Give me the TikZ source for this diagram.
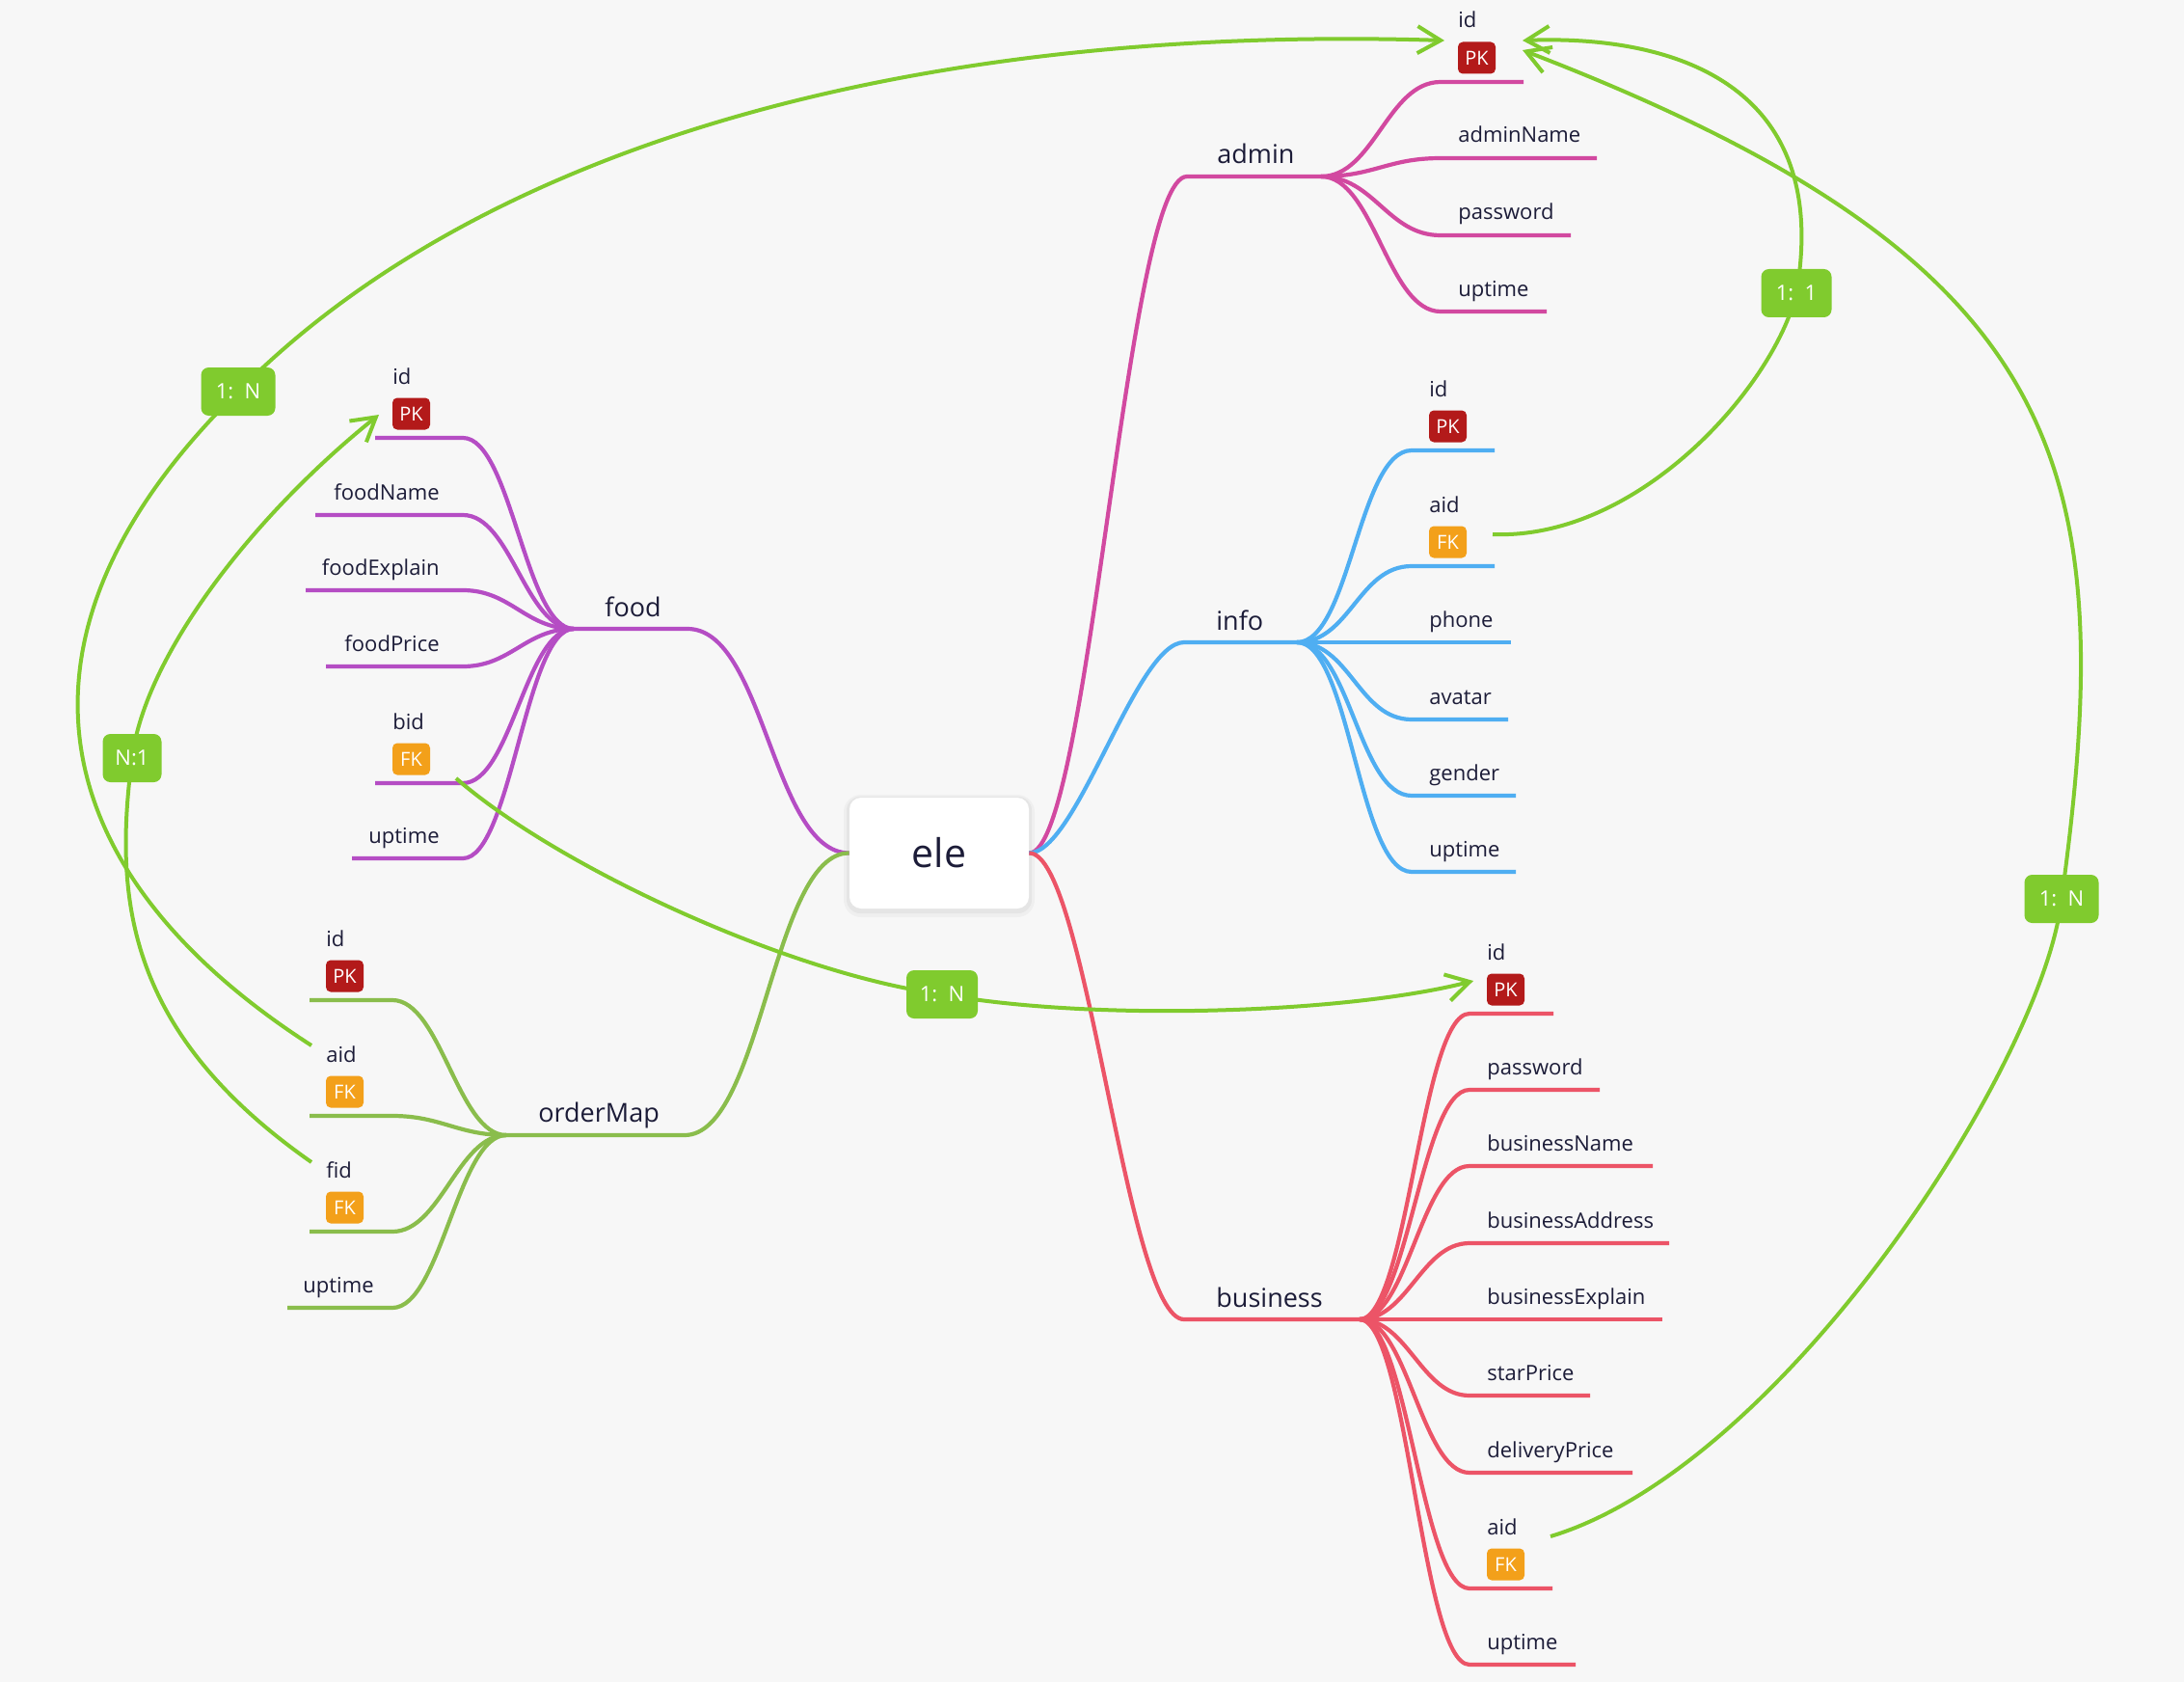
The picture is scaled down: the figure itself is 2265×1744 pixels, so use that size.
\documentclass[tikz,border=0pt]{standalone}
\usepackage{fontspec}
\setmainfont{Open Sans}
\usetikzlibrary{arrows.meta}

\definecolor{canvas}{RGB}{247,247,247}
\definecolor{ink}{RGB}{28,28,56}
\definecolor{cadmin}{RGB}{210,73,160}
\definecolor{cinfo}{RGB}{79,174,242}
\definecolor{cbus}{RGB}{236,84,103}
\definecolor{cfood}{RGB}{181,77,196}
\definecolor{corder}{RGB}{138,189,76}
\definecolor{crel}{RGB}{128,203,46}
\definecolor{cpk}{RGB}{179,26,26}
\definecolor{cfk}{RGB}{243,160,26}

\tikzset{
  fieldtxt/.style={font=\fontsize{11}{13}\selectfont, text=ink, inner sep=0pt, anchor=base west},
  fieldtxtR/.style={fieldtxt, anchor=base east},
  branchtxt/.style={font=\fontsize{13.5}{16}\selectfont, text=ink, inner sep=0pt, anchor=base west},
  keybadge/.style={rounded corners=2.5pt, minimum width=19.5pt, minimum height=16.5pt,
    inner sep=0pt, text=white, font=\fontsize{10}{11}\selectfont},
  branch/.style={line width=2.1pt, draw=#1},
  rel/.style={line width=2pt, draw=crel, -{Straight Barb[length=12pt,width=14pt]}},
  rellabel/.style={fill=crel, rounded corners=4pt, minimum height=25pt, minimum width=38.5pt,
    inner xsep=4pt, text=white, font=\fontsize{11}{12}\selectfont},
}

\begin{document}
\begin{tikzpicture}[x=0.5pt,y=-0.5pt]
\useasboundingbox (0,0) rectangle (2265,1744);
\fill[canvas] (0,0) rectangle (2265,1744);

% ---------- central topic ----------
\fill[black,opacity=0.03,rounded corners=9pt] (875,824) rectangle (1073,951);
\fill[black,opacity=0.04,rounded corners=7pt] (878,826) rectangle (1070,947);
\node[fill=white, rounded corners=6pt, minimum width=93pt, minimum height=57.5pt,
      inner sep=0pt, text=ink, font=\fontsize{20.5}{24}\selectfont] (ele) at (974,884.5) {ele};

% ---------- main branches ----------
\coordinate (adm-bend) at (1231,183);  \coordinate (adm-hub) at (1370,183);
\coordinate (inf-bend) at (1228,666);  \coordinate (inf-hub) at (1345,666);
\coordinate (bus-bend) at (1228,1368); \coordinate (bus-hub) at (1410,1368);
\coordinate (food-bend) at (713,652);  \coordinate (food-hub) at (595,652);
\coordinate (om-bend) at (710,1177);   \coordinate (om-hub) at (525,1177);

\draw[branch=cadmin] (ele.east) .. controls (1130,884) and (1168,183) .. (adm-bend) -- (adm-hub);
\draw[branch=cinfo]  (ele.east) .. controls (1117,884) and (1178,666) .. (inf-bend) -- (inf-hub);
\draw[branch=cbus]   (ele.east) .. controls (1127,884) and (1168,1368) .. (bus-bend) -- (bus-hub);
\draw[branch=cfood]  (ele.west) .. controls (801,884) and (793,652) .. (food-bend) -- (food-hub);
\draw[branch=corder] (ele.west) .. controls (801,884) and (790,1177) .. (om-bend) -- (om-hub);

\node[branchtxt] (admin) at (1262,170) {admin};
\node[branchtxt] (info) at (1261,653) {info};
\node[branchtxt] (business) at (1261,1355) {business};
\node[branchtxt] (food) at (627,639) {food};
\node[branchtxt] (ordermap) at (558,1163) {orderMap};

% ---------- admin fields ----------
\foreach \nm/\y/\e/\t in {adm-name/164/1656/adminName, adm-pw/244/1629/password, adm-up/323/1604/uptime}{
  \coordinate (\nm-s) at (1494,\y); \coordinate (\nm-e) at (\e,\y);
  \node[fieldtxt] (\nm) at (1512,\y-16) {\t};
  \draw[branch=cadmin] (adm-hub) .. controls +(55,0) and +(-55,0) .. (\nm-s) -- (\nm-e);
}
\foreach \nm/\y/\e/\t/\kt/\kc in {adm-id/85/1580/id/PK/cpk}{
  \coordinate (\nm-s) at (1494,\y); \coordinate (\nm-e) at (\e,\y);
  \node[fieldtxt] (\nm) at (1512,\y-56) {\t};
  \node[keybadge, fill=\kc] (\nm-k) at (1531.5,\y-25) {\kt};
  \draw[branch=cadmin] (adm-hub) .. controls +(55,0) and +(-55,0) .. (\nm-s) -- (\nm-e);
}

% ---------- info fields ----------
\foreach \nm/\y/\e/\t in {inf-phone/666/1567/phone, inf-av/746/1564/avatar, inf-gen/825/1572/gender, inf-up/904/1572/uptime}{
  \coordinate (\nm-s) at (1464,\y); \coordinate (\nm-e) at (\e,\y);
  \node[fieldtxt] (\nm) at (1482,\y-16) {\t};
  \draw[branch=cinfo] (inf-hub) .. controls +(55,0) and +(-55,0) .. (\nm-s) -- (\nm-e);
}
\foreach \nm/\y/\e/\t/\kt/\kc in {inf-id/467/1550/id/PK/cpk, inf-aid/587/1550/aid/FK/cfk}{
  \coordinate (\nm-s) at (1464,\y); \coordinate (\nm-e) at (\e,\y);
  \node[fieldtxt] (\nm) at (1482,\y-56) {\t};
  \node[keybadge, fill=\kc] (\nm-k) at (1501.5,\y-25) {\kt};
  \draw[branch=cinfo] (inf-hub) .. controls +(55,0) and +(-55,0) .. (\nm-s) -- (\nm-e);
}

% ---------- business fields ----------
\foreach \nm/\y/\e/\t in {bus-pw/1130/1659/password, bus-name/1209/1714/businessName,
    bus-addr/1289/1731/businessAddress, bus-exp/1368/1724/businessExplain,
    bus-star/1447/1649/starPrice, bus-del/1527/1693/deliveryPrice, bus-up/1726/1634/uptime}{
  \coordinate (\nm-s) at (1524,\y); \coordinate (\nm-e) at (\e,\y);
  \node[fieldtxt] (\nm) at (1542,\y-16) {\t};
  \draw[branch=cbus] (bus-hub) .. controls +(50,0) and +(-50,0) .. (\nm-s) -- (\nm-e);
}
\foreach \nm/\y/\e/\t/\kt/\kc in {bus-id/1051/1611/id/PK/cpk, bus-aid/1647/1610/aid/FK/cfk}{
  \coordinate (\nm-s) at (1524,\y); \coordinate (\nm-e) at (\e,\y);
  \node[fieldtxt] (\nm) at (1542,\y-56) {\t};
  \node[keybadge, fill=\kc] (\nm-k) at (1561.5,\y-25) {\kt};
  \draw[branch=cbus] (bus-hub) .. controls +(50,0) and +(-50,0) .. (\nm-s) -- (\nm-e);
}

% ---------- food fields ----------
\foreach \nm/\y/\s/\t in {food-name/534/327/foodName, food-exp/612/317/foodExplain,
    food-price/691/338/foodPrice, food-up/890/365/uptime}{
  \coordinate (\nm-s) at (\s,\y); \coordinate (\nm-e) at (480,\y);
  \node[fieldtxtR] (\nm) at (456,\y-16) {\t};
  \draw[branch=cfood] (\nm-s) -- (\nm-e) .. controls +(50,0) and +(-50,0) .. (food-hub);
}
\foreach \nm/\y/\t/\kt/\kc in {food-id/454/id/PK/cpk, food-bid/812/bid/FK/cfk}{
  \coordinate (\nm-s) at (389,\y); \coordinate (\nm-e) at (480,\y);
  \node[fieldtxt] (\nm) at (407,\y-56) {\t};
  \node[keybadge, fill=\kc] (\nm-k) at (426.5,\y-25) {\kt};
  \draw[branch=cfood] (\nm-s) -- (\nm-e) .. controls +(50,0) and +(-50,0) .. (food-hub);
}

% ---------- orderMap fields ----------
\foreach \nm/\y/\t/\kt/\kc in {om-id/1037/id/PK/cpk, om-aid/1157/aid/FK/cfk, om-fid/1277/fid/FK/cfk}{
  \coordinate (\nm-s) at (321,\y); \coordinate (\nm-e) at (407,\y);
  \node[fieldtxt] (\nm) at (338,\y-56) {\t};
  \node[keybadge, fill=\kc] (\nm-k) at (357.5,\y-25) {\kt};
  \draw[branch=corder] (\nm-s) -- (\nm-e) .. controls +(50,0) and +(-50,0) .. (om-hub);
}
\coordinate (om-up-s) at (298,1356); \coordinate (om-up-e) at (407,1356);
\node[fieldtxtR] (om-up) at (388,1340) {uptime};
\draw[branch=corder] (om-up-s) -- (om-up-e) .. controls +(50,0) and +(-50,0) .. (om-hub);

% ---------- relationships ----------
\coordinate (om-aid-r) at (323,1084);
\coordinate (om-fid-r) at (323,1205);
\coordinate (inf-aid-r) at (1548,554);
\coordinate (bus-aid-r) at (1608,1593);
\coordinate (food-bid-r) at (473,807);
\coordinate (adm-id-in1) at (1498,42);
\coordinate (adm-id-in2) at (1579,42);
\coordinate (adm-id-in3) at (1579,52);
\coordinate (food-id-in) at (393,430);
\coordinate (bus-id-in) at (1528,1017);
\coordinate (r1) at (247,406);
\coordinate (r2) at (137,786);
\coordinate (r3) at (1863,304);
\coordinate (r4) at (2138,932);
\coordinate (r5) at (977,1031);

\draw[rel] (om-aid-r) .. controls (40,902) and (-8,656) .. (r1)
           .. controls (500,150) and (950,25) .. (adm-id-in1);
\draw[rel] (om-fid-r) .. controls (130,1070) and (118,930) .. (r2)
           .. controls (150,680) and (263,534) .. (food-id-in);
\draw[rel] (inf-aid-r) .. controls (1700,560) and (1840,400) .. (r3)
           .. controls (1900,90) and (1740,36) .. (adm-id-in2);
\draw[rel] (bus-aid-r) .. controls (1850,1520) and (2120,1100) .. (r4)
           .. controls (2200,480) and (2145,270) .. (adm-id-in3);
\draw[rel] (food-bid-r) .. controls (580,900) and (820,1010) .. (r5)
           .. controls (1140,1060) and (1400,1050) .. (bus-id-in);

\node[rellabel] (r1-box) at (r1) {1:~~N};
\node[rellabel, minimum width=30.5pt] (r2-box) at (r2) {N:1};
\node[rellabel, minimum width=36.5pt] (r3-box) at (r3) {1:~~1};
\node[rellabel] (r4-box) at (r4) {1:~~N};
\node[rellabel, minimum width=37pt] (r5-box) at (r5) {1:~~N};
\end{tikzpicture}
\end{document}
